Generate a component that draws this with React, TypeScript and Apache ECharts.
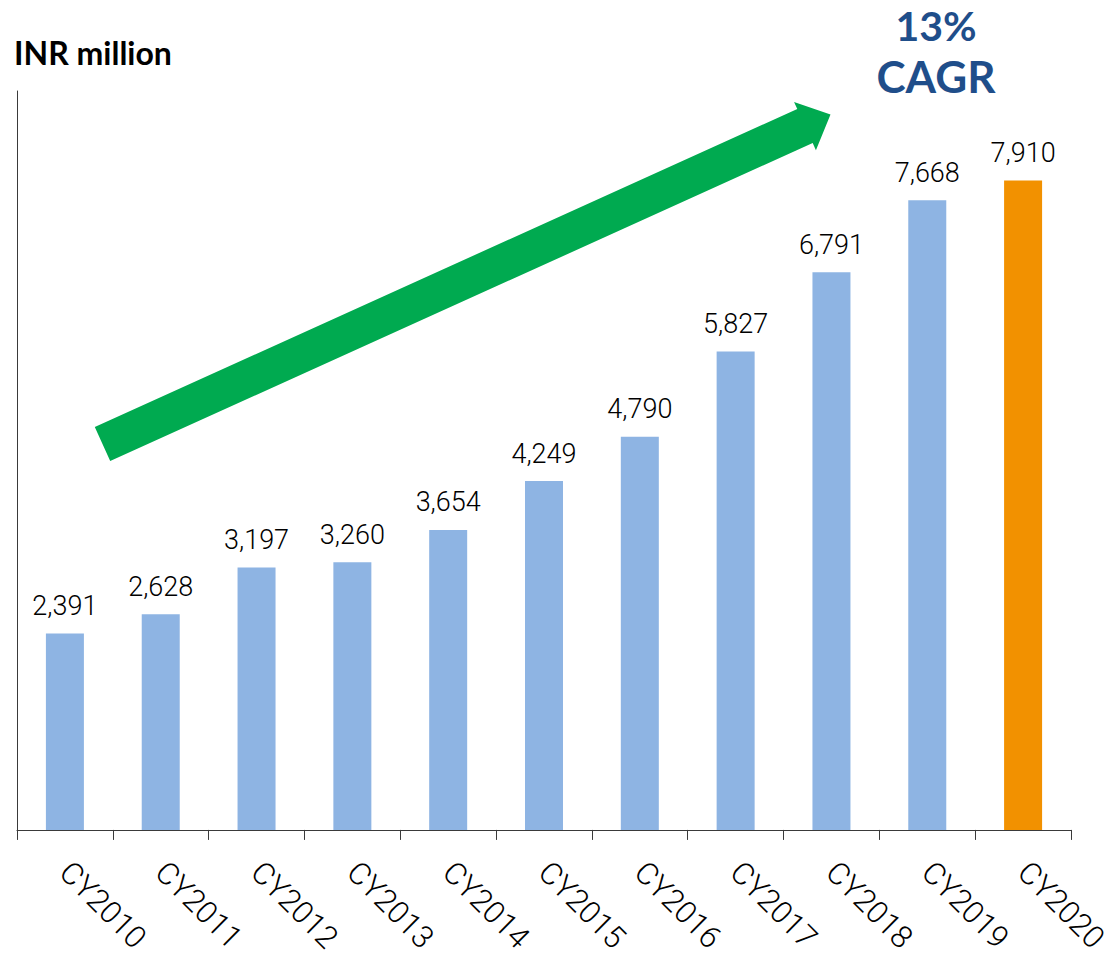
import React, { useEffect, useRef } from "react";
import * as echarts from "echarts";

const categories = ["CY2010", "CY2011", "CY2012", "CY2013", "CY2014", "CY2015", "CY2016", "CY2017", "CY2018", "CY2019", "CY2020"];
const revenue = [2391, 2628, 3197, 3260, 3654, 4249, 4790, 5827, 6791, 7668, 7910];
const highlightCategory = "CY2020";
const unitTitle = "INR million";
const cagrLines = ["13%", "CAGR"];

const BLUE = "#8EB4E3";
const ORANGE = "#F29100";
const GREEN = "#00AA50";
const NAVY = "#1F4E8A";
const AXIS = "#3a3a3a";

function arrowPoints() {
  const p0 = [102.5, 444];
  const tip = [830.5, 114.5];
  const dx = tip[0] - p0[0];
  const dy = tip[1] - p0[1];
  const len = Math.sqrt(dx * dx + dy * dy);
  const u = [dx / len, dy / len];
  const n = [-u[1], u[0]];
  const sw = 18.7;
  const hw = 26.5;
  const headLen = 28;
  const base = [p0[0] + u[0] * (len - headLen), p0[1] + u[1] * (len - headLen)];
  const pt = (o: number[], k: number) => [o[0] + n[0] * k, o[1] + n[1] * k];
  return [pt(p0, -sw), pt(base, -sw), pt(base, -hw), tip, pt(base, hw), pt(base, sw), pt(p0, sw)];
}

export default function App() {
  const ref = useRef<HTMLDivElement>(null);
  useEffect(() => {
    if (!ref.current) return;
    const chart = echarts.init(ref.current, null, { renderer: "svg" });
    const data = revenue.map((v, i) => ({
      value: v,
      itemStyle: { color: categories[i] === highlightCategory ? ORANGE : BLUE },
    }));
    chart.setOption({
      animation: false,
      backgroundColor: "#ffffff",
      grid: { left: 17, top: 91, width: 1054, height: 740 },
      xAxis: {
        type: "category",
        data: categories,
        boundaryGap: true,
        axisLine: { show: true, lineStyle: { color: AXIS, width: 1 } },
        axisTick: { show: true, length: 10, lineStyle: { color: AXIS, width: 1 } },
        axisLabel: {
          rotate: -45,
          margin: 37,
          color: "#000",
          fontSize: 31,
          fontWeight: 300,
          fontFamily: "Roboto",
          interval: 0,
        },
      },
      yAxis: {
        type: "value",
        min: 0,
        max: 9000,
        interval: 1000,
        axisLine: { show: true, lineStyle: { color: AXIS, width: 1 } },
        axisTick: { show: false },
        axisLabel: { show: false },
        splitLine: { show: false },
      },
      series: [
        {
          type: "bar",
          data,
          barWidth: 38,
          label: {
            show: true,
            position: "top",
            distance: 14,
            color: "#000",
            fontSize: 27,
            fontWeight: 300,
            fontFamily: "Roboto",
            formatter: (p: any) => Number(p.value).toLocaleString("en-US"),
          },
        },
      ],
      graphic: [
        {
          type: "polygon",
          shape: { points: arrowPoints() },
          style: { fill: GREEN },
        },
        {
          type: "text",
          left: 14,
          top: 36,
          style: { text: unitTitle, font: "bold 32px Lato", fill: "#000" },
        },
        {
          type: "text",
          x: 936,
          y: 25,
          style: { text: cagrLines[0], font: "bold 41px Lato", fill: NAVY, textAlign: "center", textVerticalAlign: "middle" },
        },
        {
          type: "text",
          x: 936,
          y: 76,
          style: { text: cagrLines[1], font: "bold 44px Lato", fill: NAVY, textAlign: "center", textVerticalAlign: "middle" },
        },
      ],
    });
    return () => chart.dispose();
  }, []);
  return <div ref={ref} style={{ position: "absolute", left: 0, top: 0, width: 1114, height: 956 }} />;
}
